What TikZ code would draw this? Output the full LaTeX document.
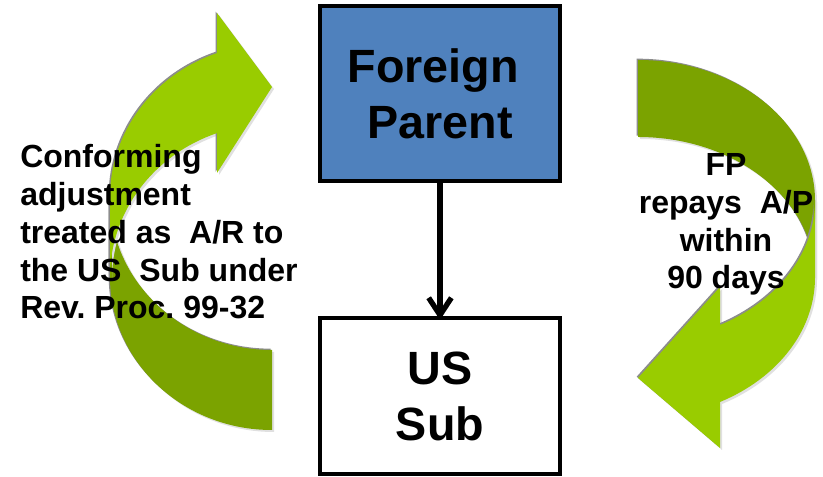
\documentclass[tikz,border=0pt]{standalone}
\usepackage{fontspec}
\setmainfont{Liberation Sans}
\usepackage{tikz}
\usetikzlibrary{arrows.meta, positioning}
\frenchspacing

\definecolor{fpblue}{HTML}{4F81BD}
\definecolor{bandlight}{HTML}{99CC00}
\definecolor{banddark}{HTML}{7BA300}

\begin{document}
\begin{tikzpicture}[x=0.75pt,y=0.75pt,>={Straight Barb[length=13pt,width=17pt]},
    entity/.style={draw=black,line width=3pt,minimum width=180pt,align=center,
                   font=\fontsize{35}{42}\selectfont\bfseries,inner sep=0pt},
    band/.style={fill=#1,
                 preaction={fill=black!12,transform canvas={shift={(1.5pt,-1.5pt)}}},
                 preaction={fill=black!45,transform canvas={shift={(-1pt,1pt)}}}},
    note/.style={inner sep=0pt,font=\fontsize{24}{28.4}\selectfont\bfseries}]

  \useasboundingbox[fill=white] (0,0) rectangle (823,477);

  % left curved arrow: tail behind, head in front
  \fill[band=banddark] (272,47) arc[start angle=270,end angle=180,x radius=162,y radius=153]
      -- (110,280) arc[start angle=180,end angle=270,x radius=162,y radius=153] -- cycle;
  \fill[band=bandlight] (110,200) -- (110,280)
      arc[start angle=180,end angle=109.85,x radius=162,y radius=153]
      -- (217,464) -- (272,390) -- (217,304) -- (217,343.9)
      arc[start angle=109.85,end angle=180,x radius=162,y radius=153] -- cycle;

  % right curved arrow
  \fill[band=banddark] (638,417) arc[start angle=90,end angle=0,x radius=177,y radius=140.5]
      -- (815,199.5) arc[start angle=0,end angle=90,x radius=177,y radius=140.5] -- cycle;
  \fill[band=bandlight] (815,276.5) -- (815,199.5)
      arc[start angle=0,end angle=-62.4,x radius=177,y radius=140.5]
      -- (720,29) -- (638,99) -- (720,190) -- (720,152)
      arc[start angle=-62.4,end angle=0,x radius=177,y radius=140.5] -- cycle;

  \node[entity,fill=fpblue,minimum height=131.25pt] (fp) at (440,383.5) {Foreign\kern10pt\\Parent};
  \node[entity,fill=white,minimum height=117pt]     (us) at (440,81)    {US\\Sub};
  \draw[->,line width=4pt,shorten >=-3pt] (fp) -- (us);

  \node[note,anchor=north west,align=left] (adjust) at (20,333)
      {Conforming\\adjustment\\treated as\ \ A/R to\\the US\ \ Sub under\\Rev. Proc. 99-32};
  \node[note,anchor=north,align=center] (repay) at (726,324)
      {FP\\repays\ \ A/P\\within\\90 days};
\end{tikzpicture}
\end{document}
